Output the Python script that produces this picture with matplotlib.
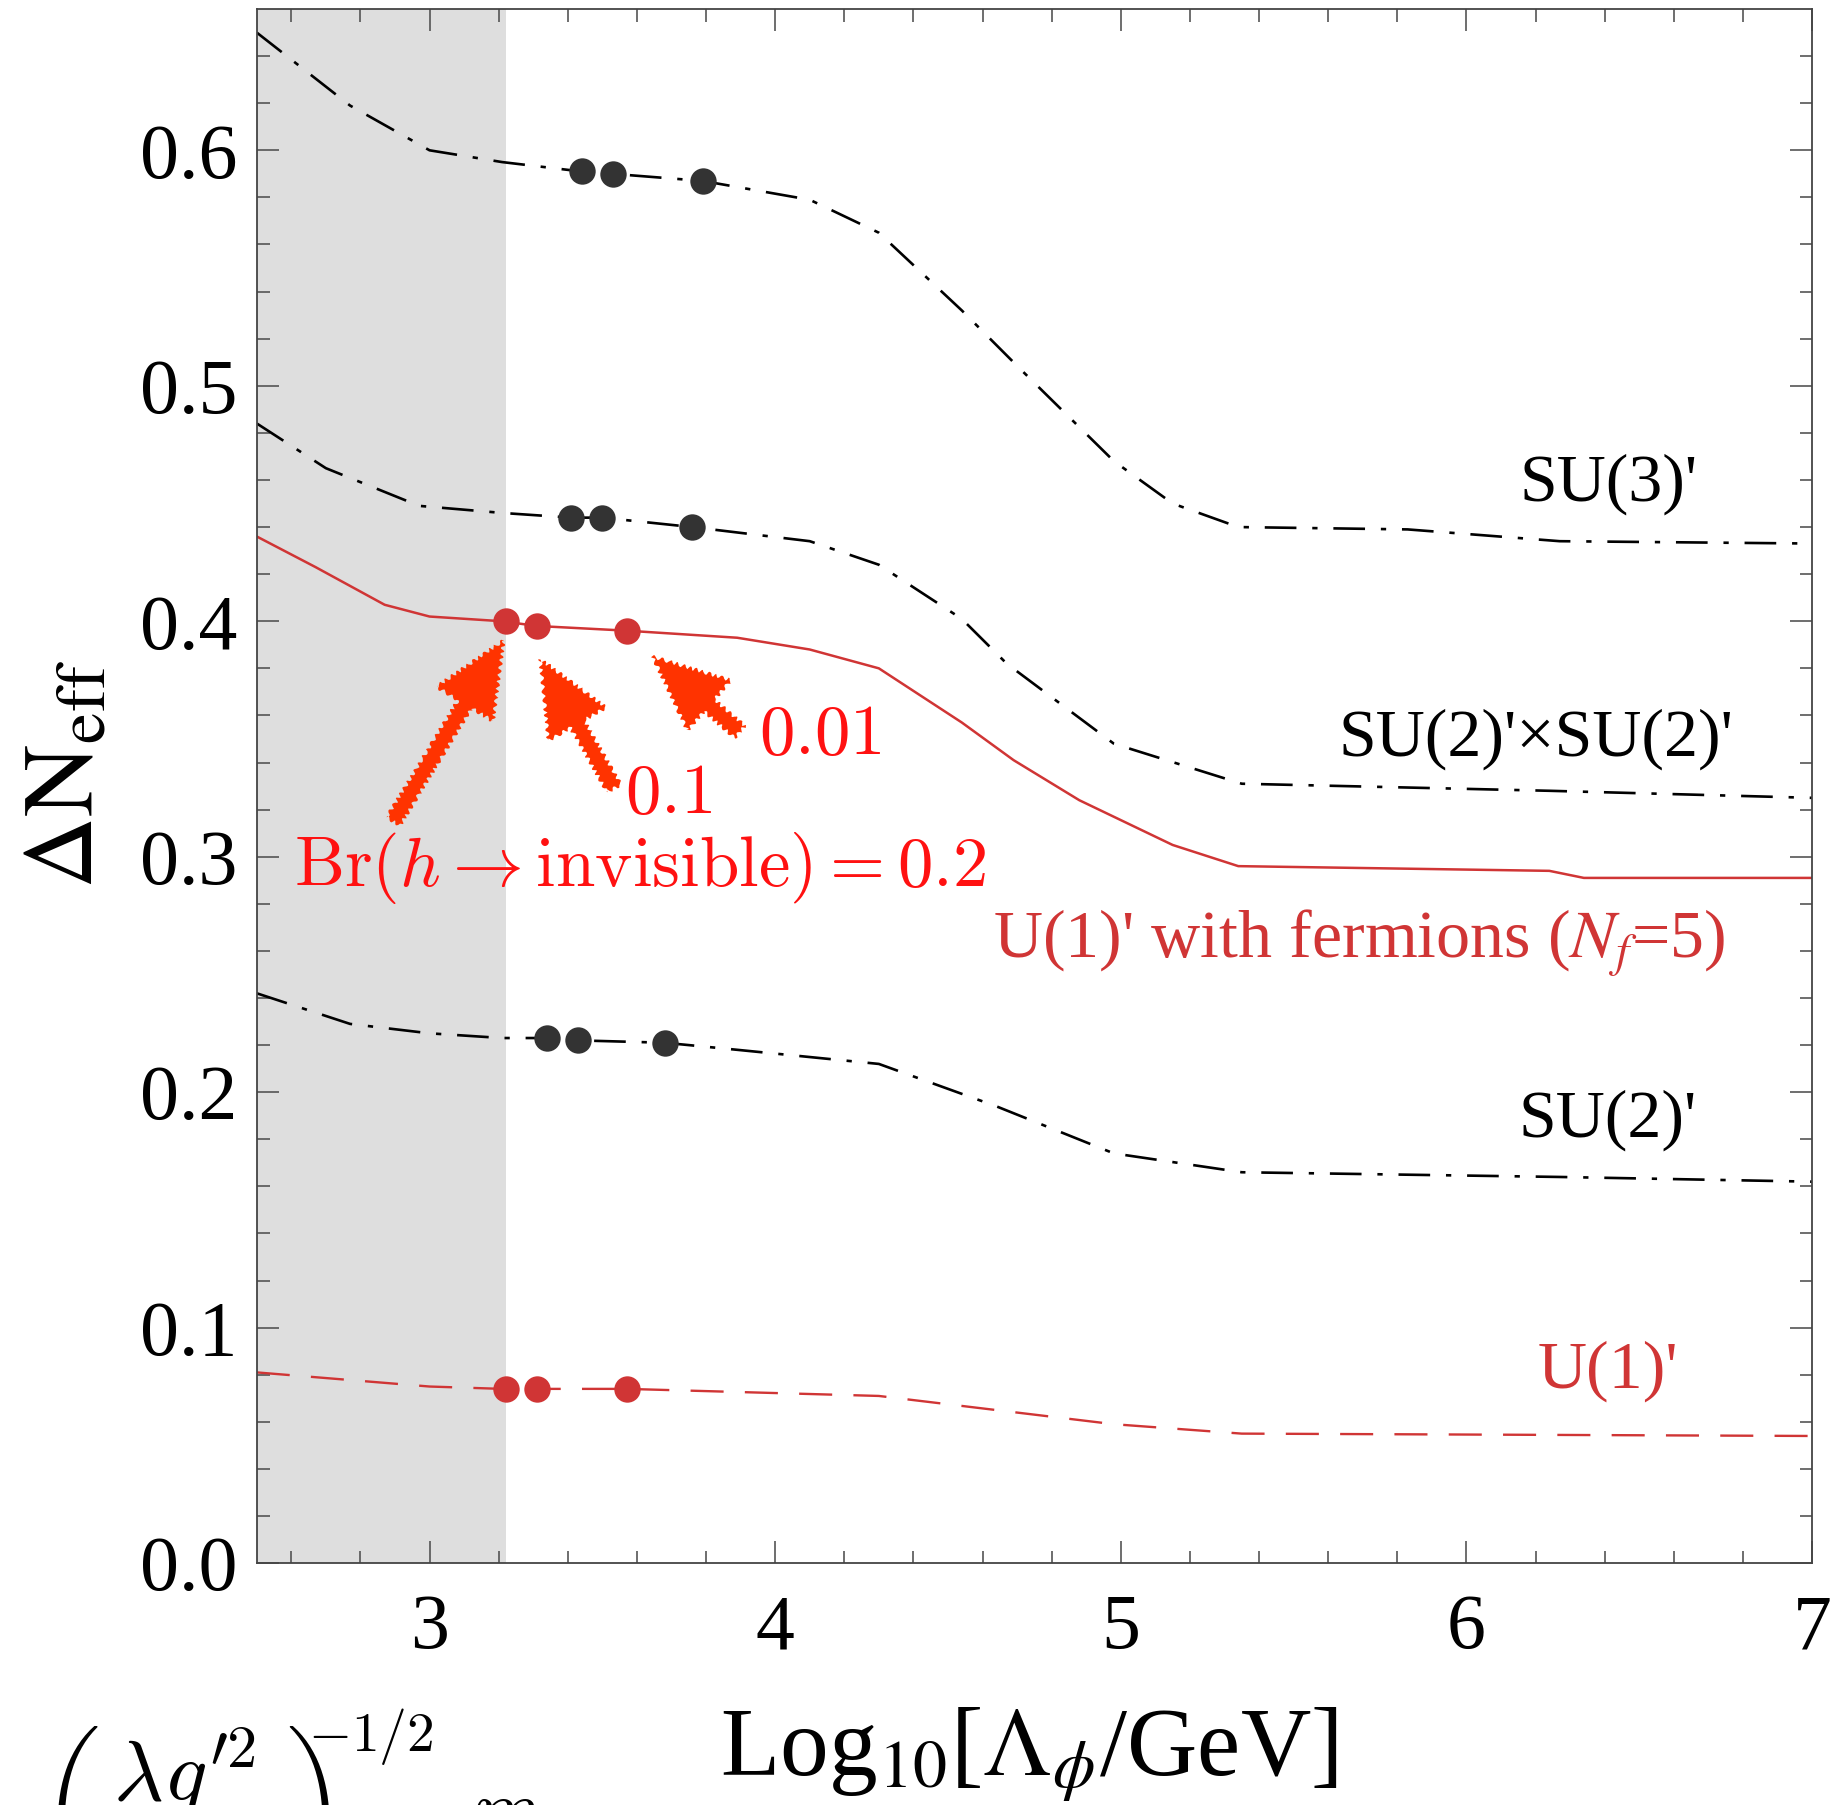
import matplotlib
matplotlib.use("Agg")
import matplotlib.pyplot as plt
import numpy as np

plt.rcParams['font.family'] = ['Liberation Serif', 'DejaVu Serif']
plt.rcParams['mathtext.fontset'] = 'stix'

# curves: x = Log10[Lambda_phi/GeV], y = Delta N_eff
su3_x = [2.50, 2.77, 3.00, 3.21, 3.44, 3.53, 3.79, 4.10, 4.30, 4.54, 4.71, 4.98, 5.15, 5.34, 5.83, 6.27, 7.00]
su3_y = [0.650, 0.619, 0.600, 0.595, 0.591, 0.590, 0.587, 0.579, 0.565, 0.532, 0.507, 0.468, 0.450, 0.440, 0.439, 0.434, 0.433]

su2su2_x = [2.50, 2.70, 2.97, 3.21, 3.41, 3.50, 3.76, 4.10, 4.30, 4.54, 4.67, 4.98, 5.35, 6.24, 7.00]
su2su2_y = [0.484, 0.465, 0.449, 0.446, 0.444, 0.444, 0.440, 0.434, 0.424, 0.401, 0.382, 0.348, 0.331, 0.328, 0.325]

u1f_x = [2.50, 2.67, 2.87, 3.00, 3.21, 3.31, 3.57, 3.89, 4.10, 4.30, 4.54, 4.69, 4.88, 5.15, 5.34, 6.24, 6.34, 7.00]
u1f_y = [0.436, 0.423, 0.407, 0.402, 0.400, 0.398, 0.396, 0.393, 0.388, 0.380, 0.357, 0.341, 0.324, 0.305, 0.296, 0.294, 0.291, 0.291]

su2_x = [2.50, 2.77, 3.00, 3.21, 3.34, 3.43, 3.68, 3.89, 4.30, 4.64, 4.98, 5.35, 6.27, 7.00]
su2_y = [0.242, 0.229, 0.225, 0.223, 0.223, 0.222, 0.221, 0.218, 0.212, 0.194, 0.174, 0.166, 0.164, 0.162]

u1_x = [2.50, 3.00, 3.21, 3.31, 3.57, 4.30, 4.98, 5.35, 7.00]
u1_y = [0.081, 0.075, 0.074, 0.074, 0.074, 0.071, 0.059, 0.055, 0.054]

# benchmark points for Br(h -> invisible) = 0.2, 0.1, 0.01
su3_pts_x = [3.44, 3.53, 3.79]
su3_pts_y = [0.591, 0.590, 0.587]
su2su2_pts_x = [3.41, 3.50, 3.76]
su2su2_pts_y = [0.444, 0.444, 0.440]
u1f_pts_x = [3.22, 3.31, 3.57]
u1f_pts_y = [0.400, 0.398, 0.396]
su2_pts_x = [3.34, 3.43, 3.68]
su2_pts_y = [0.223, 0.222, 0.221]
u1_pts_x = [3.22, 3.31, 3.57]
u1_pts_y = [0.074, 0.074, 0.074]

shade_edge = 3.22

BLACK = '#000000'
DOT = '#333333'
RED = '#D03535'
ANN = '#FF1111'
ARROW = '#FF3300'

fig = plt.figure(figsize=(18.34, 18.05), dpi=100)
ax = fig.add_axes([0.140, 0.134, 0.848, 0.861])
ax.set_xlim(2.5, 7)
ax.set_ylim(0, 0.66)

ax.axvspan(2.5, shade_edge, color='#DEDEDE', lw=0, zorder=0)

dd = [12, 6, 2, 6]
ax.plot(su3_x, su3_y, color=BLACK, lw=1.9, dashes=dd)
ax.plot(su2su2_x, su2su2_y, color=BLACK, lw=1.9, dashes=dd)
ax.plot(su2_x, su2_y, color=BLACK, lw=1.9, dashes=dd)
ax.plot(u1f_x, u1f_y, color=RED, lw=1.8)
ax.plot(u1_x, u1_y, color=RED, lw=1.7, dashes=[14, 9])

for px, py in [(su3_pts_x, su3_pts_y), (su2su2_pts_x, su2su2_pts_y), (su2_pts_x, su2_pts_y)]:
    ax.plot(px, py, 'o', color=DOT, ms=19, mew=0, zorder=5)
for px, py in [(u1f_pts_x, u1f_pts_y), (u1_pts_x, u1_pts_y)]:
    ax.plot(px, py, 'o', color=RED, ms=19, mew=0, zorder=5)

# curve labels
ax.text(6.41, 0.458, "SU(3)'", fontsize=49, ha='center', va='center')
ax.text(6.20, 0.350, "SU(2)'\u00d7SU(2)'", fontsize=49, ha='center', va='center')
ax.text(5.69, 0.263, "U(1)' with fermions ($N_f$=5)", fontsize=49, ha='center', va='center', color=RED)
ax.text(6.41, 0.188, "SU(2)'", fontsize=49, ha='center', va='center')
ax.text(6.41, 0.0815, "U(1)'", fontsize=49, ha='center', va='center', color=RED)

# Br annotations
ax.text(3.61, 0.295, r'$\mathrm{Br}(h \rightarrow \mathrm{invisible}) = 0.2$', fontsize=51,
        ha='center', va='center', color=ANN, math_fontfamily='cm')
ax.text(3.69, 0.326, r'$0.1$', fontsize=51, ha='center', va='center', color=ANN, math_fontfamily='cm')
ax.text(4.13, 0.351, r'$0.01$', fontsize=51, ha='center', va='center', color=ANN, math_fontfamily='cm')

arrows = [((2.895, 0.315), (3.215, 0.392)),
          ((3.534, 0.329), (3.32, 0.384)),
          ((3.898, 0.353), (3.645, 0.385))]
for tail, head in arrows:
    a = ax.annotate('', xy=head, xytext=tail,
                    arrowprops=dict(arrowstyle='simple,head_length=1.8,head_width=1.6,tail_width=0.38',
                                    color=ARROW, mutation_scale=30, shrinkA=0, shrinkB=0, lw=0))
    a.arrow_patch.set_sketch_params(2, 8, 2)

# ticks
ax.set_xticks([3, 4, 5, 6, 7])
ax.set_xticks(np.arange(2.6, 7.0, 0.2), minor=True)
ax.set_yticks(np.arange(0, 0.61, 0.1))
ax.set_yticks(np.arange(0, 0.66, 0.02), minor=True)
ax.set_yticklabels(['%.1f' % v for v in np.arange(0, 0.61, 0.1)])
ax.tick_params(which='both', direction='in', top=True, right=True, color='#555555', width=1.2)
ax.tick_params(which='major', length=16)
ax.tick_params(which='minor', length=9)
ax.tick_params(axis='x', labelsize=56, pad=22)
ax.tick_params(axis='y', labelsize=56, pad=14)
for s in ax.spines.values():
    s.set_color('#444444')
    s.set_linewidth(1.3)

fig.text(0.037, 0.571, r'$\Delta\mathrm{N}_{\mathrm{eff}}$', fontsize=72, rotation=90, ha='center', va='center')
fig.text(0.561, 0.028, r'Log$_{10}$[$\Lambda_\phi$/GeV]', fontsize=70, ha='center', va='center')

# second-axis label, cut by the lower edge as in the original
fig.text(0.022, 0.045, r'$\left(\dfrac{\lambda g^{\prime 2}}{16\pi^2}\right)$', fontsize=62,
         ha='left', va='top', math_fontfamily='cm')
fig.text(0.168, 0.055, r'$-1/2$', fontsize=40, ha='left', va='top', math_fontfamily='cm')
fig.text(0.258, 0.008, r'$m_\phi$', fontsize=56, ha='left', va='top', math_fontfamily='cm')

fig.savefig('out.png', dpi=100)
